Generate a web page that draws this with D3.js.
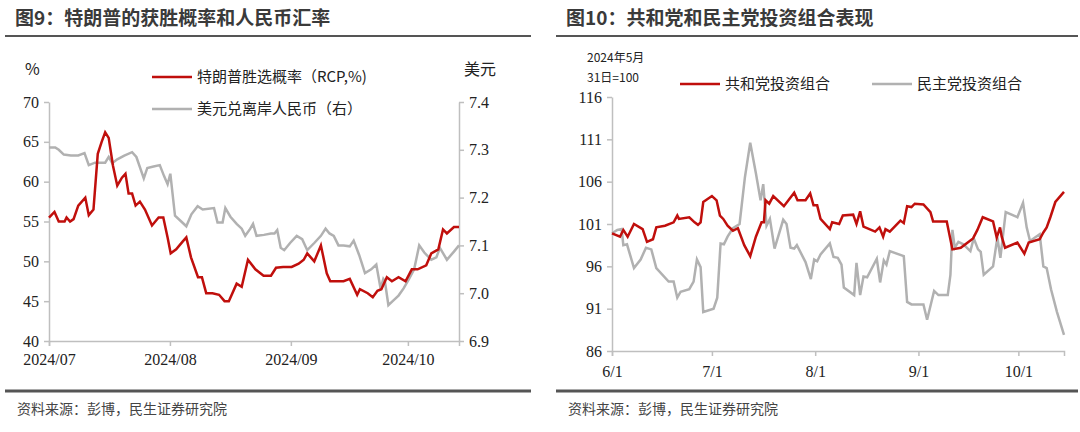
<!DOCTYPE html>
<html>
<head>
<meta charset="utf-8">
<script src="https://cdn.jsdelivr.net/npm/d3@7"></script>
<style>
  html, body { margin: 0; background: #fff; }
  svg text { font-family: "Liberation Serif", serif; }
  .cn { font-family: "Noto Sans CJK SC", sans-serif; }
</style>
</head>
<body>
<script>
// left chart: day offset from 2024-07-01
const trumpProb = [[0,55.5],[1.4,56.2],[2.5,55],[4,55],[4.5,55.5],[5.4,55],[6.3,55.3],[7.5,57],[9.3,58],[10.2,55.8],[11.4,56.5],[12.5,63.5],[13.5,65],[14.4,66.2],[15.3,65.5],[16.4,62],[17.5,59.5],[18.7,60.5],[19.6,61],[20.4,58.5],[21.3,58.5],[22.2,57],[23.3,57.5],[24.6,56.5],[26.4,54.5],[28.1,55.5],[29.3,55.5],[30.4,53],[31.2,51],[32.6,51.5],[34.3,52.5],[35.2,53],[36.4,50.5],[38.2,48],[39.2,48],[40.3,46],[41.9,46],[43.6,45.8],[45,45],[46.1,45],[48.1,47.2],[49.4,46.8],[51,50.2],[52.9,49],[55,48.2],[56.9,48.2],[58.2,49.2],[60,49.3],[62.2,49.3],[64,49.7],[65.3,50.2],[66.2,51],[68,50],[69.7,52],[71.2,48.5],[72.1,47.5],[75.5,47.5],[77.1,47.8],[79,45.8],[79.7,46.5],[81.7,46],[83,45.5],[84.2,46.3],[85.2,46.5],[86.6,48],[87.9,47.5],[89.6,48],[91.4,47.5],[93,49],[94.5,49],[96.7,49.5],[98,51],[99.8,51.5],[101,54],[102,53.5],[103.8,54.3],[105.1,54.3]];
const usdCnh = [[0,7.305],[1.6,7.305],[2.5,7.3],[3.8,7.29],[5.6,7.288],[7.5,7.288],[9.1,7.293],[10.2,7.268],[11.8,7.273],[13.5,7.273],[14.4,7.273],[15.3,7.285],[16.2,7.272],[17.5,7.28],[19.3,7.288],[21.3,7.295],[22.4,7.285],[24.3,7.24],[25.2,7.262],[26.8,7.265],[28.4,7.268],[29.5,7.245],[30.4,7.228],[31.1,7.25],[32.3,7.162],[33.9,7.15],[35.2,7.14],[36.5,7.165],[38.1,7.182],[39.4,7.175],[42.3,7.178],[43.2,7.148],[44.5,7.148],[45.2,7.178],[46.5,7.16],[48.1,7.145],[49.4,7.135],[50.3,7.12],[51.6,7.135],[52.3,7.145],[53.2,7.12],[55.1,7.122],[56.9,7.125],[57.8,7.125],[58.5,7.132],[59.4,7.095],[60.3,7.09],[61.8,7.105],[63.5,7.12],[64.9,7.113],[66.2,7.09],[68,7.105],[69.7,7.12],[70.9,7.135],[71.9,7.125],[73,7.12],[74.2,7.1],[75.5,7.1],[77.1,7.098],[78.1,7.11],[79.5,7.08],[81,7.042],[82.6,7.05],[83.9,7.06],[85,7.01],[85.7,7.03],[86.1,7.025],[87,6.975],[88.3,6.985],[89.6,6.995],[90.9,7.01],[92.3,7.03],[93.6,7.05],[94.9,7.1],[96.2,7.085],[98,7.07],[99.3,7.075],[100.2,7.095],[102,7.07],[103.8,7.087],[105.1,7.1]];
const leftTicks = ["2024/07","2024/08","2024/09","2024/10"];
const leftTickDays = [0,31,62,92];

// right chart: day offset from 2024-06-01
const repPort = [[0,99.9],[2.4,99.5],[3.4,100.3],[4.7,99.5],[6.6,101],[9.2,100.4],[10.5,98.9],[12.3,99.2],[13.3,100.6],[15.9,100.8],[18.5,101.2],[19.6,102],[20.1,101.6],[23.2,101.8],[24.8,101.2],[25.8,100.9],[26.6,101.2],[27.4,103.6],[30,104.3],[31.4,103.8],[32.4,102],[33.4,101.6],[34.7,100.8],[36.3,100.2],[37.8,100.5],[39.7,98.5],[41.5,97.2],[43.2,99.5],[44.9,101.2],[45.6,101.2],[46.1,103.8],[47.2,103.4],[48.4,104.3],[51.6,103.1],[54.7,104.7],[55.7,103.8],[58.1,103.8],[59.5,104.6],[60.5,103.2],[61.6,103.2],[62.6,101.6],[65.4,100.4],[66.1,101.2],[68.2,101],[69.3,102],[72.4,102.1],[73.4,101],[74.5,102.5],[75.5,100.7],[79,100.1],[80.3,100.6],[81.4,99.5],[82.1,100.4],[83.4,100.1],[86.6,101.4],[87.6,101.1],[88.6,103.1],[89.9,103],[90.9,103.4],[93.5,103.3],[95.6,102.4],[96.4,101.3],[100.5,101.3],[102.2,98],[104.7,98.2],[108.4,99.3],[109.7,100.3],[111.3,101.8],[114.4,101.3],[115.5,99.4],[116.5,100.6],[117,99.5],[118,98.2],[121.7,98.8],[123.8,97.5],[125.1,98.8],[128.4,99.2],[129.5,100],[130.5,100.6],[131.6,101.8],[133.1,103.6],[135.7,104.8]];
const demPort = [[0,99.9],[1.6,100.3],[2.9,100.4],[3.4,98.5],[4.5,98.6],[6.6,95.8],[8.6,96.8],[10.2,98.2],[11.8,98],[13.3,95.8],[17,94.2],[18.5,94.2],[19.6,92.3],[20.6,93],[23.2,93.3],[24.5,94.2],[25.5,96.8],[26.6,95.9],[27.4,90.6],[30.5,91],[31.6,92.3],[32.6,98.7],[33.6,98.6],[34.7,99.5],[36.3,100.5],[38.3,101],[39.9,106.5],[41.5,110.6],[43.2,107],[44.6,103.8],[45.4,105.7],[46.4,100.8],[47.4,101.6],[48.8,98.1],[51.4,101.5],[52.4,101],[53.6,98.2],[54.7,98.1],[55.5,98.5],[58.1,96.5],[59.7,94.5],[60.7,96.8],[61.6,96.6],[62.6,97.4],[65.4,98.7],[66.5,97.1],[67.8,97],[68.9,96.2],[69.6,93.5],[72.7,92.6],[73.4,96.4],[74.5,92.6],[75.5,94.8],[76.6,94.7],[79.5,96.9],[80.5,94.1],[81.6,96.7],[82.4,96.2],[83.4,97.8],[87.6,97.2],[88.6,91.8],[89.9,91.5],[93.5,91.5],[94.6,89.7],[96.7,93.1],[98,92.6],[100.8,92.6],[101.6,95],[102.2,100.3],[102.9,98.2],[104,98.9],[105.5,98.6],[107.6,97.8],[108.6,99.3],[109.9,98],[110.7,97.7],[111.6,95],[114.4,96],[115.7,99.4],[116.6,97],[118.2,102.4],[121.7,101.8],[123.4,103.5],[124.5,100.6],[125.5,99],[128.4,99.8],[129.5,96],[130.5,95.8],[131.8,93.3],[133.6,90.6],[135.7,87.9]];
const rightTicks = ["6/1","7/1","8/1","9/1","10/1"];
const rightTickDays = [0,30,61,92,122];

const RED = "#c00f0c", GREY = "#b1b1b1", AX = "#bfbfbf", TXT = "#222";

const svg = d3.select("body").append("svg").attr("width",1080).attr("height",432);

function header(x0, x1, title) {
  svg.append("text").attr("class","cn").attr("x",x0+10).attr("y",25)
    .attr("font-size",19).attr("font-weight","bold").attr("fill","#3a3a3a").text(title);
  svg.append("line").attr("x1",x0).attr("x2",x1).attr("y1",36).attr("y2",36)
    .attr("stroke","#555").attr("stroke-width",2);
  svg.append("line").attr("x1",x0).attr("x2",x1).attr("y1",391).attr("y2",391)
    .attr("stroke","#555").attr("stroke-width",3);
  svg.append("text").attr("class","cn").attr("x",x0+12).attr("y",414)
    .attr("font-size",14).attr("fill","#444").text("资料来源：彭博，民生证券研究院");
}
header(5, 531, "图9：特朗普的获胜概率和人民币汇率");
header(556, 1078, "图10：共和党和民主党投资组合表现");

function styleAxis(g) {
  g.selectAll("path,line").attr("stroke",AX).attr("stroke-width",1.5);
  g.selectAll("text").attr("font-family","Liberation Serif").attr("font-size",16).attr("fill",TXT);
}

// ---- left chart
const xl = d3.scaleLinear([0,105.1],[49,459]);
const yl = d3.scaleLinear([40,70],[341,102]);
const yr = d3.scaleLinear([6.9,7.4],[341,102]);

svg.append("g").attr("transform","translate(0,341)")
  .call(d3.axisBottom(xl).tickValues(leftTickDays).tickFormat((d,i)=>leftTicks[i]).tickSize(5).tickPadding(8))
  .call(styleAxis);
svg.append("g").attr("transform","translate(49,0)")
  .call(d3.axisLeft(yl).tickValues(d3.range(40,71,5)).tickSize(5).tickPadding(5).tickSizeOuter(0))
  .call(styleAxis);
svg.append("g").attr("transform","translate(459,0)")
  .call(d3.axisRight(yr).tickValues(d3.range(6.9,7.41,0.1)).tickFormat(d3.format(".1f")).tickSize(5).tickPadding(5).tickSizeOuter(0))
  .call(styleAxis);

const lineL = d3.line().x(d=>xl(d[0])).y(d=>yl(d[1]));
const lineR = d3.line().x(d=>xl(d[0])).y(d=>yr(d[1]));
svg.append("path").attr("d",lineR(usdCnh)).attr("fill","none").attr("stroke",GREY).attr("stroke-width",2.5);
svg.append("path").attr("d",lineL(trumpProb)).attr("fill","none").attr("stroke",RED).attr("stroke-width",2.5);

svg.append("text").attr("class","cn").attr("x",25).attr("y",75).attr("font-size",16).attr("fill",TXT).text("%");
svg.append("text").attr("class","cn").attr("x",464).attr("y",75).attr("font-size",16).attr("fill",TXT).text("美元");

function legend(x, y, color, label) {
  svg.append("line").attr("x1",x).attr("x2",x+40).attr("y1",y).attr("y2",y).attr("stroke",color).attr("stroke-width",2.5);
  svg.append("text").attr("class","cn").attr("x",x+45).attr("y",y+5).attr("font-size",15).attr("fill",TXT).text(label);
}
legend(152, 77, RED, "特朗普胜选概率（RCP,%)");
legend(152, 109, GREY, "美元兑离岸人民币（右）");

// ---- right chart
const x2 = d3.scaleLinear([0,135.7],[612,1064]);
const y2 = d3.scaleLinear([86,116],[351,97]);

svg.append("g").attr("transform","translate(0,351)")
  .call(d3.axisBottom(x2).tickValues(rightTickDays).tickFormat((d,i)=>rightTicks[i]).tickSize(5).tickPadding(10))
  .call(styleAxis);
svg.append("g").attr("transform","translate(612,0)")
  .call(d3.axisLeft(y2).tickValues(d3.range(86,117,5)).tickSize(5).tickPadding(5).tickSizeOuter(0))
  .call(styleAxis);

const line2 = d3.line().x(d=>x2(d[0])).y(d=>y2(d[1]));
svg.append("path").attr("d",line2(demPort)).attr("fill","none").attr("stroke",GREY).attr("stroke-width",2.5);
svg.append("path").attr("d",line2(repPort)).attr("fill","none").attr("stroke",RED).attr("stroke-width",2.5);

svg.append("text").attr("class","cn").attr("x",587).attr("y",62).attr("font-size",12).attr("fill",TXT).text("2024年5月");
svg.append("text").attr("class","cn").attr("x",587).attr("y",82).attr("font-size",12).attr("fill",TXT).text("31日=100");
legend(680, 84, RED, "共和党投资组合");
legend(872, 84, GREY, "民主党投资组合");
</script>
</body>
</html>
